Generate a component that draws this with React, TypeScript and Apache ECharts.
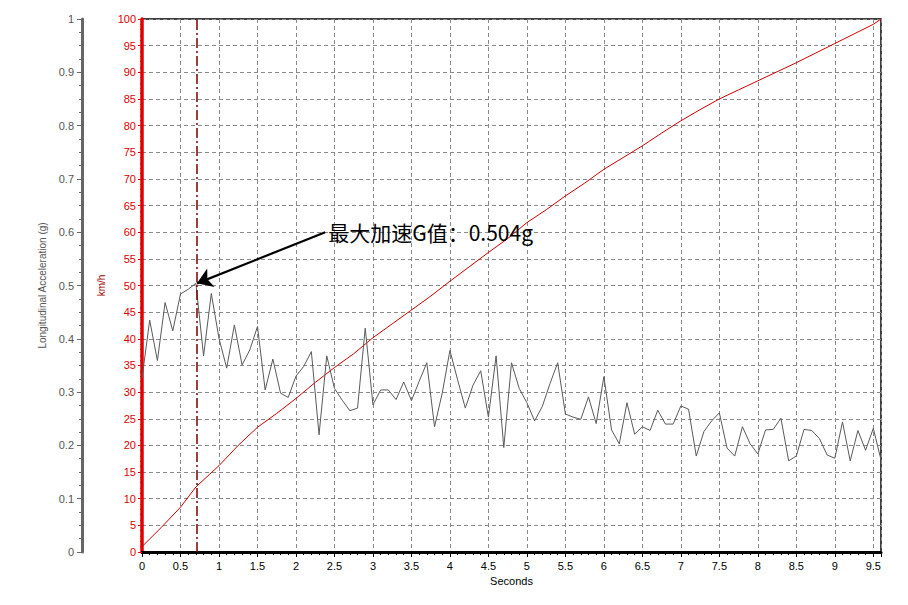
import React, { useEffect, useRef } from "react";
import * as echarts from "echarts";

// acceleration samples (g), one every 0.1 s from 0 to 9.6 s
const sampleStep = 0.1;
const accel = [
  0.326, 0.435, 0.359, 0.468, 0.415, 0.484, 0.493, 0.504, 0.368, 0.485,
  0.401, 0.345, 0.426, 0.351, 0.379, 0.423, 0.304, 0.362, 0.298, 0.29,
  0.33, 0.348, 0.376, 0.22, 0.368, 0.307, 0.285, 0.265, 0.27, 0.42,
  0.276, 0.304, 0.304, 0.286, 0.319, 0.284, 0.32, 0.355, 0.235, 0.298,
  0.378, 0.323, 0.27, 0.313, 0.34, 0.253, 0.368, 0.196, 0.355, 0.307,
  0.28, 0.246, 0.273, 0.316, 0.355, 0.259, 0.253, 0.249, 0.291, 0.241,
  0.329, 0.229, 0.203, 0.28, 0.221, 0.235, 0.228, 0.266, 0.24, 0.24,
  0.274, 0.268, 0.18, 0.226, 0.246, 0.261, 0.195, 0.18, 0.235, 0.203,
  0.184, 0.229, 0.23, 0.251, 0.171, 0.18, 0.23, 0.228, 0.213, 0.182,
  0.176, 0.244, 0.171, 0.228, 0.191, 0.232, 0.173,
];

// speed (km/h) read at these times (s)
const speedTimes = [
  0, 0.25, 0.5, 0.7, 1, 1.25, 1.5, 1.75, 2, 2.25, 2.5, 2.75, 3, 3.25, 3.5,
  3.75, 4, 4.25, 4.5, 4.75, 5, 5.25, 5.5, 5.75, 6, 6.25, 6.5, 6.75, 7, 7.25,
  7.5, 7.75, 8, 8.25, 8.5, 8.75, 9, 9.25, 9.5, 9.6,
];
const speedValues = [
  1.0, 4.6, 8.4, 12.2, 16.2, 20.0, 23.4, 26.0, 28.8, 31.8, 34.6, 37.2, 40.2,
  42.8, 45.4, 48.0, 50.8, 53.5, 56.2, 58.8, 61.8, 64.2, 66.8, 69.2, 71.8,
  74.0, 76.2, 78.6, 80.9, 83.0, 85.0, 86.7, 88.4, 90.1, 91.8, 93.6, 95.4,
  97.2, 99.0, 100,
];

const peakTime = 0.714;
const peakG = 0.504;
const noteAnchor = [2.38, 0.6];
const noteText = "最大加速G值：0.504g";

const font = "'Liberation Sans', 'DejaVu Sans', sans-serif";

const App: React.FC = () => {
  const chartRef = useRef<HTMLDivElement>(null);

  useEffect(() => {
    const chart = echarts.init(chartRef.current, null, { renderer: "svg" });

    const gridLine = {
      show: true,
      lineStyle: { color: "#8a8a8a", type: [4, 3] as number[], width: 1 },
    };

    const option: echarts.EChartsOption = {
      animation: false,
      backgroundColor: "#fff",
      textStyle: { fontFamily: font },
      grid: {
        left: 142,
        right: 27,
        top: 19,
        bottom: 53,
        show: true,
        borderColor: "#000",
        borderWidth: 1.5,
        backgroundColor: "transparent",
      },
      xAxis: {
        type: "value",
        min: 0,
        max: 9.6,
        interval: 0.5,
        name: "Seconds",
        nameLocation: "middle",
        nameGap: 23,
        nameTextStyle: { color: "#000", fontSize: 11 },
        axisLine: { show: true, lineStyle: { color: "#000", width: 3 } },
        axisTick: { show: true, length: 5, lineStyle: { color: "#000" } },
        minorTick: { show: true, splitNumber: 5, length: 3, lineStyle: { color: "#000" } },
        axisLabel: { color: "#000", fontSize: 11, margin: 8, showMaxLabel: false },
        splitLine: gridLine,
      },
      yAxis: [
        {
          type: "value",
          position: "left",
          min: 0,
          max: 100,
          interval: 5,
          name: "km/h",
          nameLocation: "middle",
          nameRotate: 90,
          nameGap: 36,
          nameTextStyle: { color: "#990000", fontSize: 10 },
          axisLine: { show: true, lineStyle: { color: "#e00000", width: 3.5 } },
          axisTick: { show: true, length: 4, lineStyle: { color: "#e00000" } },
          minorTick: { show: true, splitNumber: 5, length: 2, lineStyle: { color: "#e00000" } },
          axisLabel: { color: "#e00000", fontSize: 11, margin: 6 },
          splitLine: gridLine,
        },
        {
          type: "value",
          position: "left",
          offset: 60,
          min: 0,
          max: 1,
          interval: 0.1,
          name: "Longitudinal Acceleration (g)",
          nameLocation: "middle",
          nameRotate: 90,
          nameGap: 29,
          nameTextStyle: { color: "#555", fontSize: 10 },
          axisLine: { show: true, lineStyle: { color: "#666", width: 3 } },
          axisTick: { show: true, length: 5, lineStyle: { color: "#666" } },
          minorTick: { show: true, splitNumber: 4, length: 3, lineStyle: { color: "#666" } },
          axisLabel: { color: "#555", fontSize: 11, margin: 8 },
          splitLine: { show: false },
        },
      ],
      series: [
        {
          name: "Speed",
          type: "line",
          yAxisIndex: 0,
          data: speedTimes.map((t, i) => [t, speedValues[i]]),
          showSymbol: false,
          lineStyle: { color: "#cc0000", width: 1 },
          z: 3,
        },
        {
          name: "Acceleration",
          type: "line",
          yAxisIndex: 1,
          data: accel.map((g, i) => [+(i * sampleStep).toFixed(1), g]),
          showSymbol: false,
          lineStyle: { color: "#5a5a5a", width: 1 },
          z: 4,
          markLine: {
            silent: true,
            symbol: ["none", "none"],
            label: { show: false },
            lineStyle: { color: "#7a0000", width: 1.5, type: [10, 3, 2, 3] },
            data: [{ xAxis: peakTime }],
          },
        },
        {
          name: "Note",
          type: "line",
          yAxisIndex: 1,
          data: [[noteAnchor[0], noteAnchor[1]]],
          showSymbol: false,
          lineStyle: { width: 0 },
          markLine: {
            silent: true,
            symbol: ["none", "arrow"],
            symbolSize: 15,
            label: { show: false },
            itemStyle: { color: "#000" },
            lineStyle: { color: "#000", width: 2.2, type: "solid" },
            data: [
              [
                { coord: noteAnchor },
                { coord: [peakTime, peakG] },
              ],
            ],
          },
          markPoint: {
            silent: true,
            symbol: "circle",
            symbolSize: 0,
            label: {
              show: true,
              position: "right",
              distance: 3,
              formatter: noteText,
              color: "#000",
              fontSize: 21,
              fontFamily: "'Noto Sans CJK SC', sans-serif",
            },
            data: [{ coord: noteAnchor }],
          },
          z: 6,
        },
      ],
    };

    chart.setOption(option);
    return () => chart.dispose();
  }, []);

  return (
    <div
      ref={chartRef}
      style={{ position: "fixed", left: 0, top: 0, width: 908, height: 605 }}
    />
  );
};

export default App;
